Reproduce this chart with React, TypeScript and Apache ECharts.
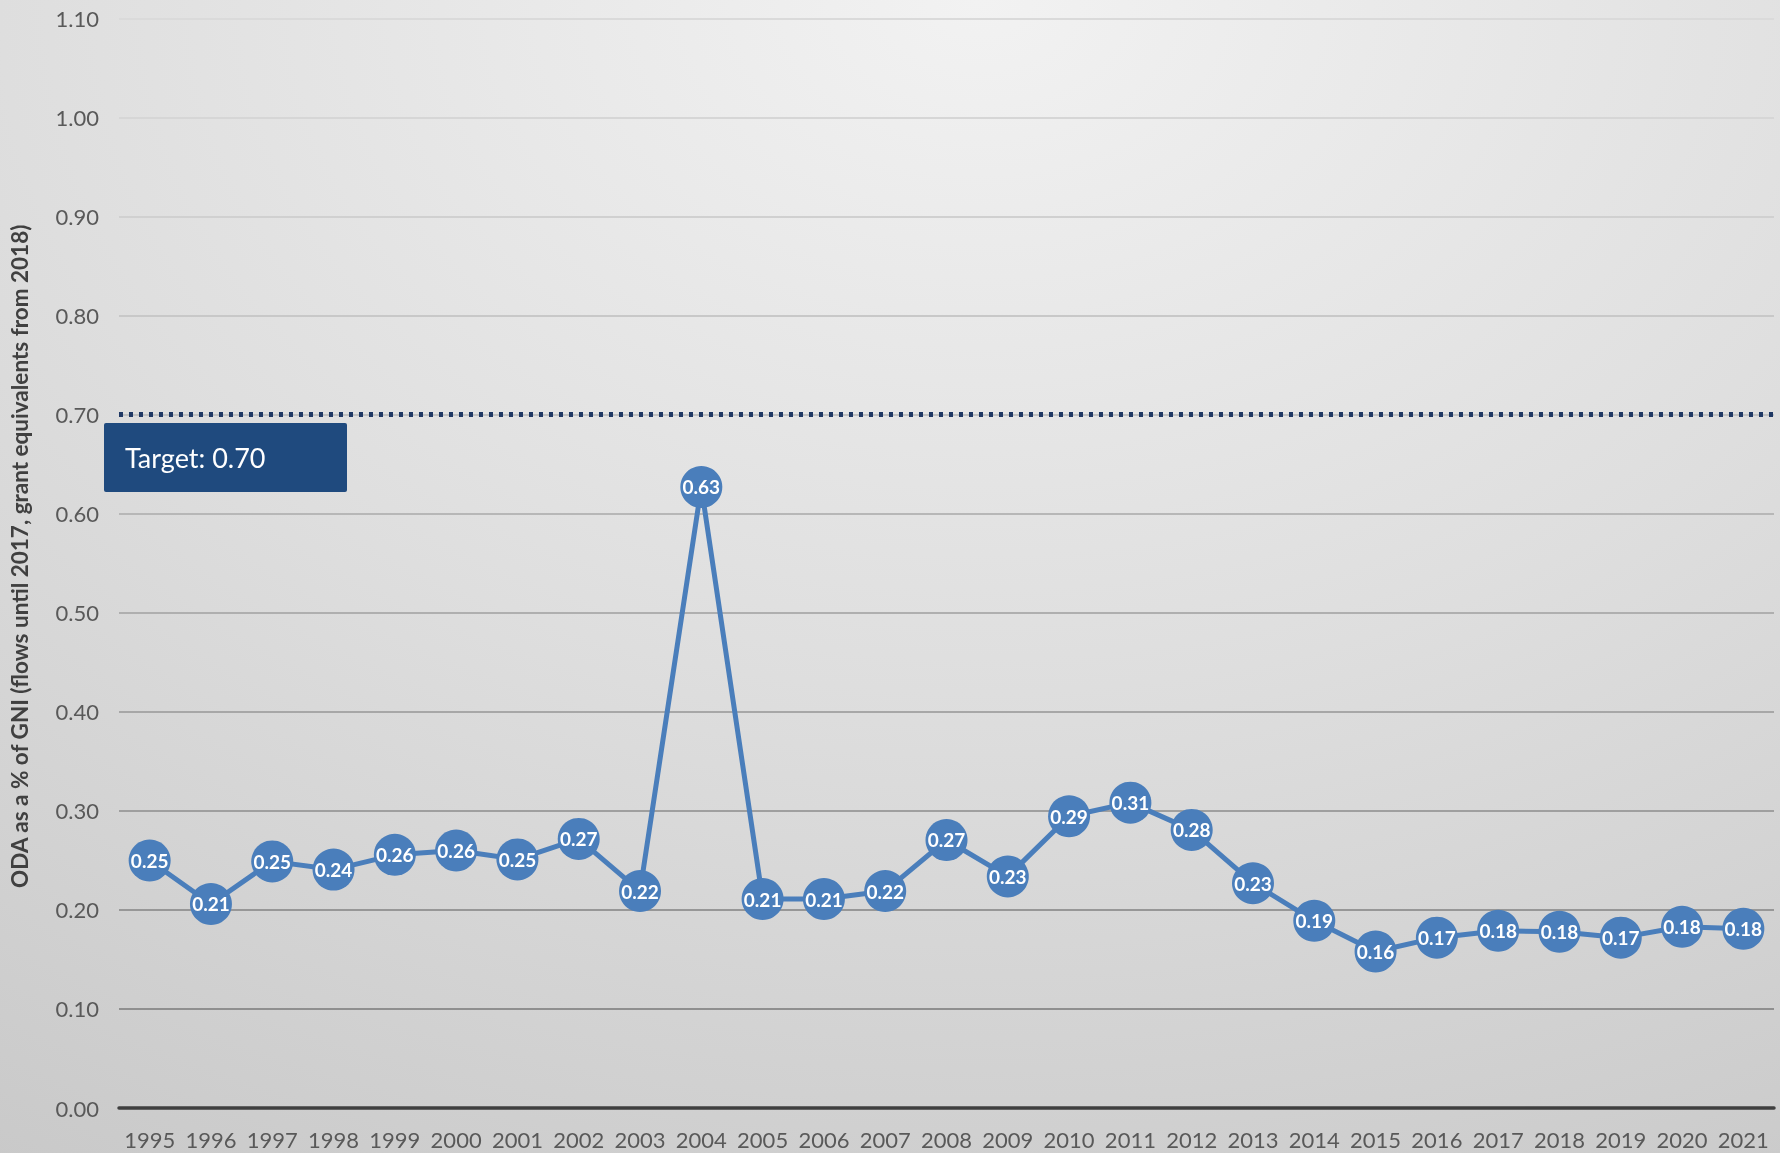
import React, { useEffect, useRef } from "react";
import * as echarts from "echarts";

const years: string[] = [
  "1995", "1996", "1997", "1998", "1999", "2000", "2001", "2002", "2003",
  "2004", "2005", "2006", "2007", "2008", "2009", "2010", "2011", "2012",
  "2013", "2014", "2015", "2016", "2017", "2018", "2019", "2020", "2021",
];

const odaShare: number[] = [
  0.2499, 0.206, 0.249, 0.2407, 0.2556, 0.26, 0.251, 0.2717, 0.219,
  0.627, 0.211, 0.211, 0.219, 0.2706, 0.2338, 0.2946, 0.3083, 0.2808,
  0.227, 0.189, 0.158, 0.172, 0.179, 0.178, 0.172, 0.183, 0.181,
];

const TARGET = 0.7;
const targetLabel = "Target: 0.70";
const yAxisTitle = "ODA as a % of GNI (flows until 2017, grant equivalents from 2018)";

const gridColors: string[] = [
  "#8c8c8c", "#8f8f8f", "#979797", "#9f9f9f", "#a7a7a7", "#afafaf",
  "#b7b7b7", "#c0c0c0", "#c8c8c8", "#d0d0d0", "#d6d6d6", "#dadada",
];

export default function App() {
  const ref = useRef<HTMLDivElement>(null);

  useEffect(() => {
    document.body.style.margin = "0";
    const chart = echarts.init(ref.current!, null, { renderer: "svg" });
    const font = "Lato, 'Open Sans', sans-serif";
    chart.setOption({
      animation: false,
      backgroundColor: "transparent",
      textStyle: { fontFamily: font },
      grid: { left: 116, right: 6, top: 18.5, bottom: 45 },
      xAxis: {
        type: "category",
        data: years,
        boundaryGap: true,
        axisLine: { show: true, lineStyle: { color: "#3f3f3f", width: 3.5 } },
        axisTick: { show: false },
        axisLabel: { color: "#595959", fontSize: 22, margin: 20, interval: 0, fontFamily: font },
        splitLine: { show: false },
      },
      yAxis: {
        type: "value",
        min: 0,
        max: 1.1,
        interval: 0.1,
        name: yAxisTitle,
        nameLocation: "middle",
        nameGap: 88,
        nameTextStyle: {
          color: "#404040",
          fontSize: 22.5,
          fontWeight: "bold",
          fontFamily: font,
          padding: [0, 0, 0, 14],
        },
        axisLine: { show: false },
        axisTick: { show: false },
        axisLabel: {
          color: "#595959",
          fontSize: 22,
          margin: 20,
          fontFamily: font,
          formatter: (v: number) => v.toFixed(2),
        },
        splitLine: { show: true, lineStyle: { color: gridColors, width: 2 } },
      },
      series: [
        {
          type: "line",
          data: odaShare,
          symbol: "circle",
          symbolSize: 42,
          showSymbol: true,
          showAllSymbol: true,
          lineStyle: { color: "#4a7ebb", width: 5 },
          itemStyle: { color: "#4a7ebb" },
          label: {
            show: true,
            position: "inside",
            color: "#ffffff",
            fontSize: 19,
            fontWeight: "bold",
            fontFamily: font,
            formatter: (p: any) => Number(p.value).toFixed(2),
          },
          labelLayout: { hideOverlap: false },
          emphasis: { disabled: true },
          z: 3,
          markLine: {
            silent: true,
            symbol: "none",
            label: { show: false },
            lineStyle: { color: "#1f3864", width: 5, type: [4, 6], cap: "butt" },
            data: [{ yAxis: TARGET }],
            z: 5,
          },
        },
      ],
      graphic: [
        {
          type: "group",
          z: 4,
          children: [
            {
              type: "rect",
              shape: { x: 104, y: 423, width: 243, height: 69, r: 2 },
              style: { fill: "#1f4a7e" },
            },
            {
              type: "text",
              x: 125,
              y: 457,
              style: {
                text: targetLabel,
                fill: "#ffffff",
                fontSize: 27,
                fontFamily: font,
                verticalAlign: "middle",
                align: "left",
              },
            },
          ],
        },
      ],
    });
    return () => chart.dispose();
  }, []);

  return (
    <div
      ref={ref}
      style={{
        position: "fixed",
        left: 0,
        top: 0,
        width: 1780,
        height: 1153,
        background:
          "radial-gradient(ellipse 110% 120% at 55% 0%, #f2f2f2 0%, #dedede 50%, #c8c8c8 100%)",
      }}
    />
  );
}
